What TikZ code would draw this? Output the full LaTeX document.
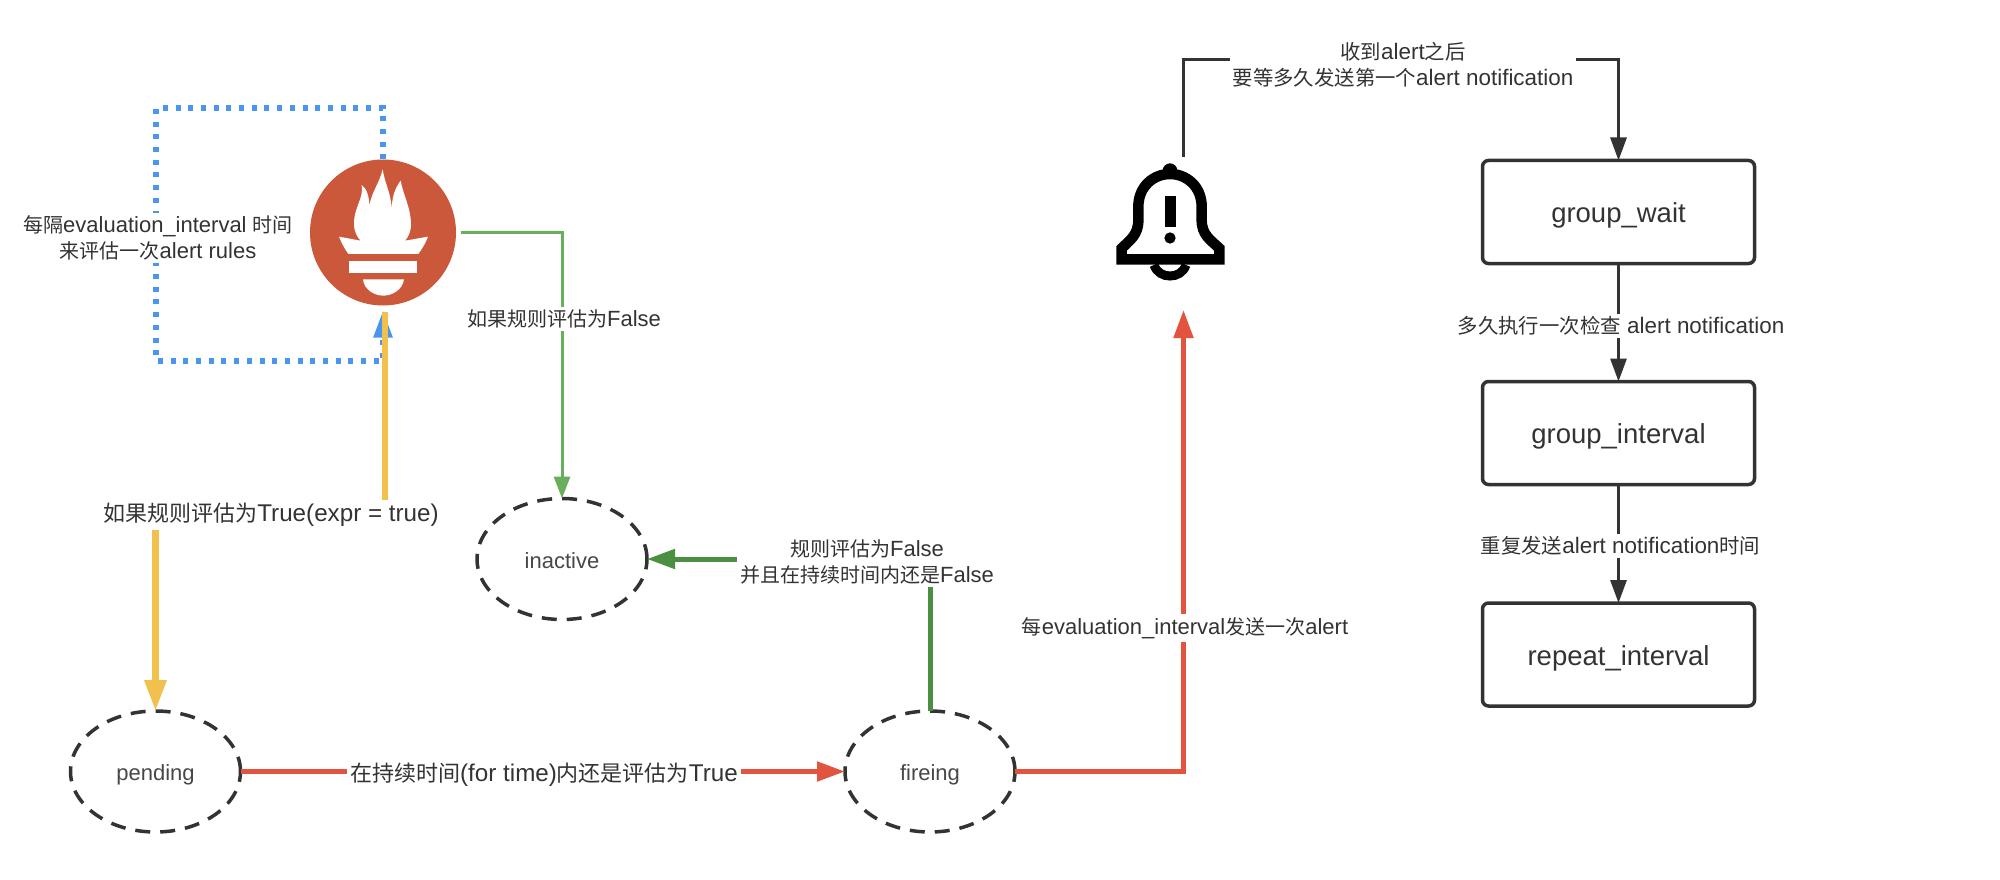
\documentclass[tikz,border=0pt]{standalone}
\usepackage{fontspec}
\setmainfont[Scale=1.1]{Liberation Sans}
\newfontfamily\cjk{Noto Sans CJK SC}
\newcommand{\zh}[1]{{\cjk #1}}
\usetikzlibrary{shapes.geometric,arrows.meta,positioning}
\definecolor{ink}{HTML}{333333}
\definecolor{flame}{HTML}{CB583B}
\definecolor{dotblue}{HTML}{4A96EE}
\definecolor{amber}{HTML}{F2C04D}
\definecolor{leaf}{HTML}{69AE5B}
\definecolor{moss}{HTML}{4C8F43}
\definecolor{coral}{HTML}{E25340}

\begin{document}
\begin{tikzpicture}[x=1pt,y=-1pt,
		state_dash/.style ={ellipse, draw=ink, line width=3.5pt, dash pattern=on 15pt off 10pt,
			minimum width=170pt, minimum height=121pt, inner sep=0pt, outer sep=0pt,
			text=ink!90, text height=24pt, text depth=6pt, font=\fontsize{20}{24}\selectfont},
		block_step/.style ={rectangle, rounded corners=6pt, draw=ink, line width=3.5pt,
			minimum width=272pt, minimum height=103pt, outer sep=0pt,
			text=ink, text height=27pt, text depth=6pt, font=\fontsize{25}{28}\selectfont},
		note_small/.style ={fill=white, align=center, inner sep=3pt, text=ink,
			font=\fontsize{20}{26}\selectfont},
		note_wide/.style ={note_small, font=\fontsize{20.4}{26}\selectfont},
		note_big/.style ={note_small, font=\fontsize{22}{26}\selectfont},
		line_dark/.style ={draw=ink, line width=3pt, -{Triangle[length=23pt,width=16pt]}},
		line_dot/.style ={draw=dotblue, line width=5.5pt, dash pattern=on 5pt off 7.7pt,
			-{Triangle[length=27pt,width=18pt]}, shorten >=5pt},
		line_yellow/.style ={draw=amber, line width=6.5pt, -{Triangle[length=31pt,width=21pt]}},
		line_green/.style ={draw=leaf, line width=3pt, -{Triangle[length=22pt,width=16pt]}, shorten <=5pt},
		line_moss/.style ={draw=moss, line width=5pt, -{Triangle[length=28pt,width=19pt]}},
		line_red/.style ={draw=coral, line width=5pt, -{Triangle[length=28pt,width=19pt]}}]

	\useasboundingbox (0,0) rectangle (2000,880);

	% prometheus logo
	\node [circle, fill=flame, minimum size=146pt, inner sep=0pt, outer sep=0pt] (logo) at (383,232.5) {};
	\begin{scope}[shift={(280,150)},scale=1/3]
		\fill [white] (308,58) .. controls (298,100) and (275,125) .. (268,168)
			.. controls (268,140) and (260,115) .. (245,105)
			.. controls (252,145) and (222,170) .. (222,222)
			.. controls (222,245) and (232,262) .. (242,272)
			-- (177,260) .. controls (185,280) and (195,298) .. (205,312) -- (415,312)
			.. controls (425,298) and (437,280) .. (444,260) -- (375,272)
			.. controls (385,262) and (393,245) .. (393,222)
			.. controls (393,175) and (368,130) .. (362,92)
			.. controls (345,115) and (335,140) .. (335,185)
			.. controls (335,130) and (315,105) .. (308,58) -- cycle;
		\fill [white] (207,333) rectangle (412,369);
		\fill [white] (249,388) .. controls (252,420) and (285,437) .. (310,437)
			.. controls (335,437) and (368,420) .. (372,388) -- cycle;
	\end{scope}

	% alert bell
	\begin{scope}[shift={(1080,150)},scale=1/3]
		\draw [black, line width=10.5pt, miter limit=10] (125,328) -- (125,295)
			.. controls (150,270) and (175,255) .. (175,210) -- (175,170)
			.. controls (175,110) and (220,72) .. (270,72)
			.. controls (320,72) and (365,110) .. (365,170) -- (365,210)
			.. controls (365,255) and (392,270) .. (418,295) -- (418,328) -- cycle;
		\fill [black] (270,62) circle (22);
		\draw [black, line width=9pt] (222,345) .. controls (230,368) and (250,378) .. (270,378)
			.. controls (290,378) and (310,368) .. (318,345);
		\fill [black] (255,137) rectangle (287,232);
		\fill [black] (270,264) circle (17);
	\end{scope}
	\coordinate (bell_top) at (1183,157);
	\coordinate (bell_over) at (1183,60);
	\coordinate (bell_foot) at (1183.5,310);

	% states
	\node [state_dash] (inactive) at (562,559) {inactive};
	\node [state_dash] (pending) at (155.5,771.5) {pending};
	\node [state_dash] (firing) at (930,771.5) {fireing};

	% timing blocks
	\node [block_step] (group_wait) at (1618.5,212) {group\_wait};
	\node [block_step] (group_interval) at (1618.5,433) {group\_interval};
	\node [block_step] (repeat_interval) at (1618.5,654.5) {repeat\_interval};

	% helper points
	\coordinate (dot_top) at (156,108);
	\coordinate (dot_low) at (156,361);
	\coordinate (yellow_start) at (385,312);
	\coordinate (yellow_turn) at (155.5,514);

	% connecting nodes with paths
	\draw [line_dot] (logo.north) |- (dot_top) -- (dot_low) -| (logo.south);
	\draw [line_yellow] (yellow_start) |- (yellow_turn) -- (pending.north);
	\draw [line_green] (logo.east) -| (inactive.north);
	\draw [line_moss] (firing.north) |- (inactive.east);
	\draw [line_red] (pending.east) -- (firing.west);
	\draw [line_red] (firing.east) -| (bell_foot);
	\begin{scope}[every path/.style=line_dark]
		\path (bell_top) -- (bell_over) -| (group_wait.north);
		\path (group_wait) -- (group_interval);
		\path (group_interval) -- (repeat_interval);
	\end{scope}

	% labels over the paths
	\node [note_small] (note_eval) at (158,238) {\zh{每隔}evaluation\_interval \zh{时间}\\\zh{来评估一次}alert rules};
	\node [note_big] (note_true) at (271,515) {\zh{如果规则评估为}True(expr = true)};
	\node [note_small] (note_false) at (564,319) {\zh{如果规则评估为}False};
	\node [note_small] (note_still) at (867,562) {\zh{规则评估为}False\\\zh{并且在持续时间内还是}False};
	\node [note_big] (note_for) at (544,775) {\zh{在持续时间}(for time)\zh{内还是评估为}True};
	\node [note_small] (note_send) at (1185,628) {\zh{每}evaluation\_interval\zh{发送一次}alert};
	\node [note_wide] (note_wait) at (1403,64.5) {\zh{收到}alert\zh{之后}\\\zh{要等多久发送第一个}alert notification};
	\node [note_wide] (note_check) at (1621,326) {\zh{多久执行一次检查} alert notification};
	\node [note_wide] (note_repeat) at (1620.5,546) {\zh{重复发送}alert notification\zh{时间}};
\end{tikzpicture}
\end{document}
